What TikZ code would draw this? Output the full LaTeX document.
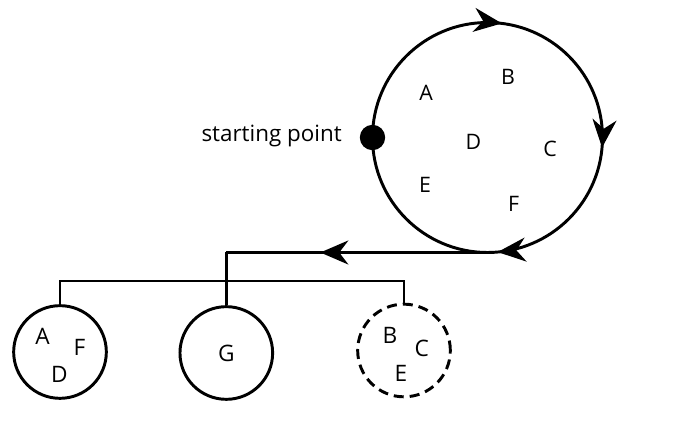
\documentclass[tikz,border=0pt]{standalone}
\usepackage{fontspec}
\setmainfont{Open Sans}
\usetikzlibrary{arrows.meta,decorations.markings}

\tikzset{
  lbl/.style={font=\fontsize{16}{18}\selectfont, inner sep=0pt},
  sublbl/.style={font=\fontsize{17}{19}\selectfont, inner sep=0pt},
  line/.style={line width=2.2pt},
  group/.style={circle, draw, line width=2.2pt, minimum size=69.5pt, inner sep=0pt},
  dot/.style={circle, fill=black, minimum size=19pt, inner sep=0pt},
}

\begin{document}
\begin{tikzpicture}[x=0.75pt, y=0.75pt, >={Stealth[length=21pt, width=18pt]}]
  \useasboundingbox (0,0) rectangle (700,-427);

  % the main loop
  \coordinate (pool) at (487.5,-137.5);
  \draw[line, postaction=decorate, decoration={markings,
      mark=at position 0.27 with {\arrow{>}},
      mark=at position 0.514 with {\arrow{>}},
      mark=at position 0.736 with {\arrow{>}}}]
    (pool) ++(180:115) arc[start angle=180, end angle=-180, radius=115];
  \coordinate (bottom) at ([shift={(0,-115)}]pool);

  \foreach \t/\x/\y in {A/426/92.5, B/508/76.5, D/473.5/141.5, C/550/148.5, E/425/185, F/513.5/203.5}
    \node[lbl] (big\t) at (\x,-\y) {\t};

  \node[dot] (start) at ([shift={(-115,0)}]pool) {};
  \node[lbl, font=\fontsize{16.8}{19}\selectfont, anchor=base east] (startlbl) at (342,-142) {starting point};

  % the three groups
  \node[group] (left) at (60,-352) {};
  \node[group] (mid) at (226.3,-353) {};
  \node[group, dash pattern=on 7.5pt off 4.5pt] (right) at (404,-350.5) {};

  \foreach \t/\x/\y in {A/-17.5/-15.5, F/19.5/-4.5, D/-0.5/22}
    \node[sublbl] (left\t) at ([shift={(\x,-\y)}]left) {\t};
  \node[sublbl] (midG) at (mid) {G};
  \foreach \t/\x/\y in {B/-14/-15.5, C/17.7/-1.8, E/-3/22.8}
    \node[sublbl] (right\t) at ([shift={(\x,-\y)}]right) {\t};

  % connectors
  \coordinate (turn) at (mid.north |- bottom);
  \draw[line, postaction=decorate, decoration={markings,
      mark=at position 0.64 with {\arrow{>}}}]
    (bottom) -- (turn);
  \draw[line] (turn) -- (mid.north);
  \coordinate (bus) at (0,-281);
  \draw[line] (left.north) -- (left.north |- bus) -- (right.north |- bus) -- (right.north);
\end{tikzpicture}
\end{document}
